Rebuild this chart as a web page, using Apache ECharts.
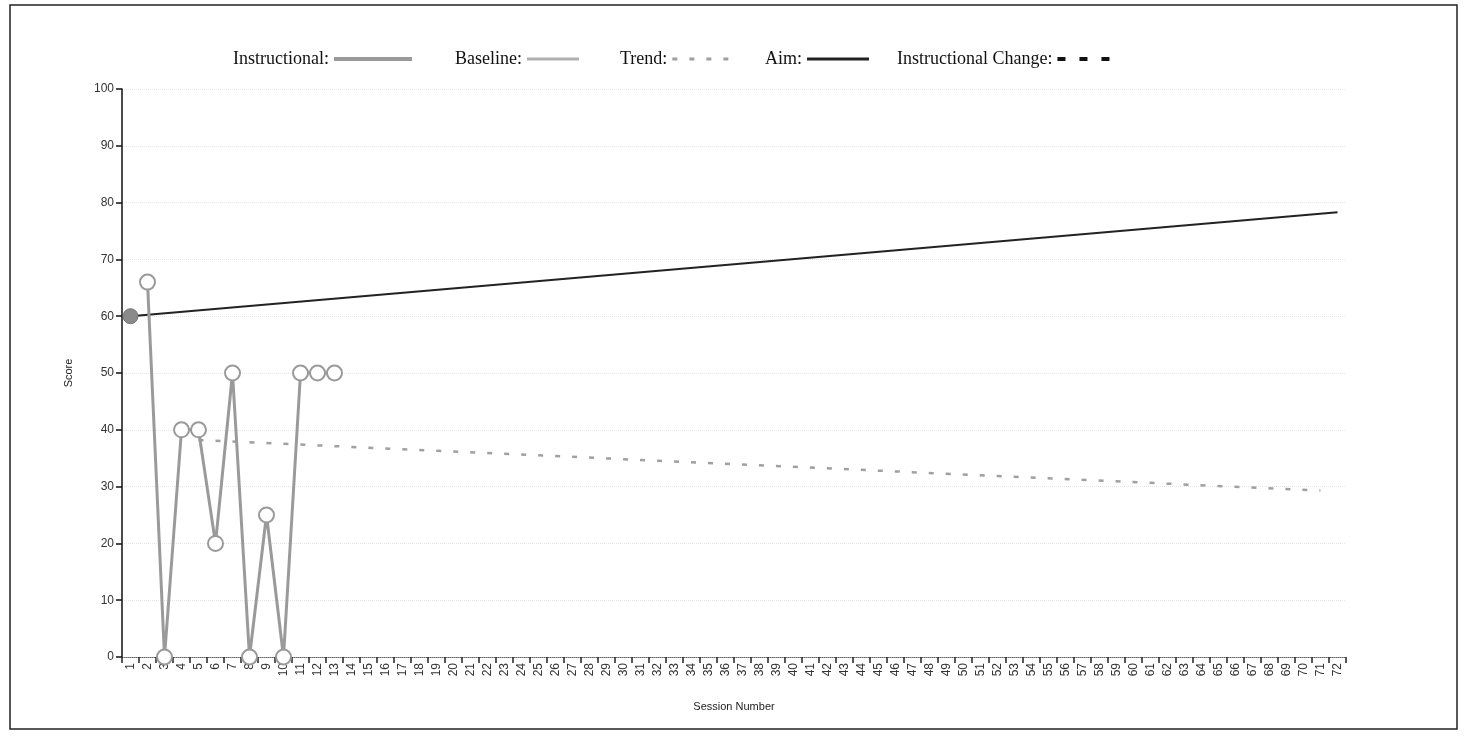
<!DOCTYPE html>
<html>
<head>
<meta charset="utf-8">
<script src="https://cdn.jsdelivr.net/npm/echarts@6/dist/echarts.min.js"></script>
<style>html,body{margin:0;padding:0;background:#fff}#c{width:1466px;height:736px}</style>
</head>
<body>
<div id="c"></div>
<script>
// Session numbers 1..72
const sessions = [];
for (let i = 1; i <= 72; i++) sessions.push(String(i));

const yTicks = [0, 10, 20, 30, 40, 50, 60, 70, 80, 90, 100];
const legendNames = ['Instructional', 'Baseline', 'Trend', 'Aim', 'Instructional Change'];

// Baseline point (session, score)
const baselinePoints = [[1, 60]];
// Instructional points (session, score)
const instructionalSessions = [2, 3, 4, 5, 6, 7, 8, 9, 10, 11, 12, 13];
const instructionalScores   = [66, 0, 40, 40, 20, 50, 0, 25, 0, 50, 50, 50];
// Aim line endpoints (session, score)
const aimPoints = [[1, 60], [72, 78.3]];
// Trend line endpoints (session, score)
const trendPoints = [[5, 38.2], [71, 29.3]];
// Instructional change (none recorded)
const changePoints = [];

const toIdx = p => [p[0] - 1, p[1]];

// legend layout: left position, sample width and sample thickness for each item
const legendLeft  = [233, 455, 620, 765, 897];
const legendWidth = [78, 52, 57, 62, 53];
const legendThick = [4, 3, 3, 3, 4];

const legends = legendNames.map((n, i) => ({
  top: 50,
  left: legendLeft[i],
  padding: 0,
  align: 'right',
  itemWidth: legendWidth[i],
  itemHeight: 14,
  itemGap: 0,
  itemStyle: { opacity: 0 },
  lineStyle: { width: legendThick[i] },
  textStyle: { fontFamily: 'Liberation Serif, Times New Roman, serif', fontSize: 18, color: '#111' },
  formatter: v => v + ':',
  data: [n],
  selectedMode: false
}));

const chart = echarts.init(document.getElementById('c'));
chart.setOption({
  animation: false,
  backgroundColor: '#fff',
  grid: { left: 122, right: 120, top: 89, bottom: 79 },
  legend: legends,
  graphic: [{
    type: 'rect',
    shape: { x: 10, y: 5, width: 1447, height: 724 },
    style: { fill: 'none', stroke: '#222', lineWidth: 1.5 },
    silent: true
  }],
  xAxis: {
    type: 'category',
    data: sessions,
    boundaryGap: true,
    name: 'Session Number',
    nameLocation: 'middle',
    nameGap: 44,
    nameTextStyle: { fontFamily: 'Liberation Sans, Arial, sans-serif', fontSize: 11, color: '#222' },
    axisLine: { lineStyle: { color: '#666', type: 'dotted', width: 1 } },
    axisTick: { show: true, length: 6, lineStyle: { color: '#222', width: 1.5 }, interval: 0 },
    axisLabel: { interval: 0, rotate: 90, fontSize: 12, color: '#333', fontFamily: 'Liberation Sans, Arial, sans-serif', margin: 6 },
    splitLine: { show: false }
  },
  yAxis: {
    type: 'value',
    min: 0, max: 100, interval: 10,
    name: 'Score',
    nameLocation: 'middle',
    nameGap: 48,
    nameTextStyle: { fontFamily: 'Liberation Sans, Arial, sans-serif', fontSize: 11, color: '#222' },
    axisLine: { show: true, lineStyle: { color: '#111', width: 1.5 } },
    axisTick: { show: true, length: 6, lineStyle: { color: '#111', width: 1.5 } },
    axisLabel: { fontSize: 12, color: '#333', fontFamily: 'Liberation Sans, Arial, sans-serif', margin: 8,
      formatter: v => yTicks.includes(v) ? String(v) : '' },
    splitLine: { show: true, lineStyle: { color: '#e6e6e6', type: 'dotted', width: 1 } }
  },
  series: [
    {
      name: 'Instructional',
      type: 'line',
      data: instructionalSessions.map((s, i) => [s - 1, instructionalScores[i]]),
      lineStyle: { color: '#9a9a9a', width: 3 },
      itemStyle: { color: '#fff', borderColor: '#9a9a9a', borderWidth: 2 },
      symbol: 'circle',
      symbolSize: 15,
      z: 3
    },
    {
      name: 'Baseline',
      type: 'line',
      data: baselinePoints.map(toIdx),
      lineStyle: { color: '#b0b0b0', width: 2.5 },
      itemStyle: { color: '#8a8a8a', borderColor: '#777', borderWidth: 1 },
      symbol: 'circle',
      symbolSize: 15,
      z: 4
    },
    {
      name: 'Trend',
      type: 'line',
      data: trendPoints.map(toIdx),
      symbol: 'none',
      lineStyle: { color: '#a0a0a0', width: 2.5, type: [5, 12] },
      itemStyle: { color: '#999' },
      z: 2
    },
    {
      name: 'Aim',
      type: 'line',
      data: aimPoints.map(toIdx),
      symbol: 'none',
      lineStyle: { color: '#222', width: 2 },
      itemStyle: { color: '#111' },
      z: 2
    },
    {
      name: 'Instructional Change',
      type: 'line',
      data: changePoints.map(toIdx),
      symbol: 'none',
      lineStyle: { color: '#111', width: 3.5, type: [8, 14] },
      itemStyle: { color: '#111' }
    }
  ]
});
</script>
</body>
</html>
